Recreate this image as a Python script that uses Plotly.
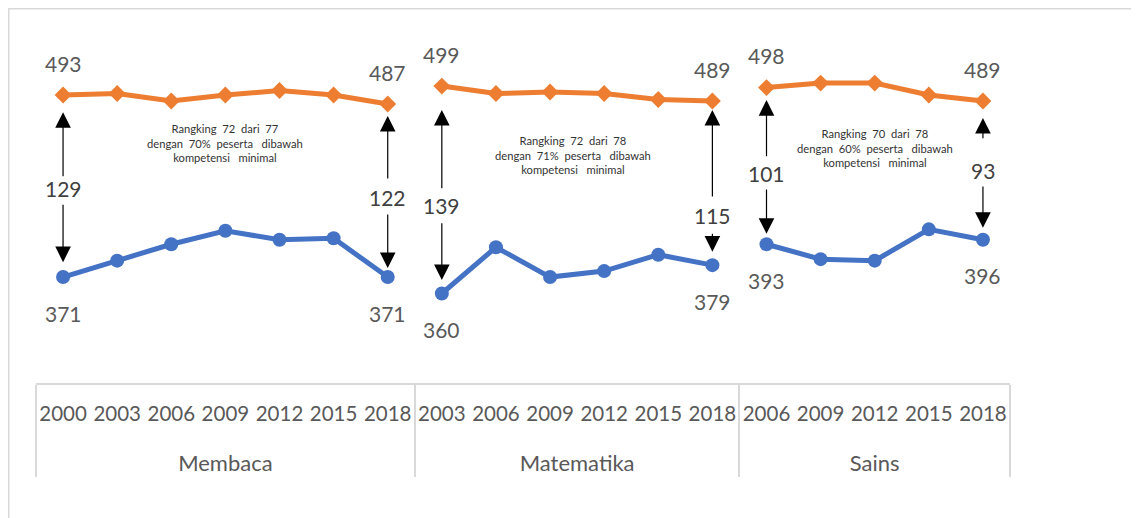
import plotly.graph_objects as go

# ---------------- data ----------------
groups = ["Membaca", "Matematika", "Sains"]

membaca_years = ["2000", "2003", "2006", "2009", "2012", "2015", "2018"]
matematika_years = ["2003", "2006", "2009", "2012", "2015", "2018"]
sains_years = ["2006", "2009", "2012", "2015", "2018"]

membaca_oecd = [493, 494, 489, 493, 496, 493, 487]
matematika_oecd = [499, 494, 495, 494, 490, 489]
sains_oecd = [498, 501, 501, 493, 489]

membaca_indonesia = [371, 382, 393, 402, 396, 397, 371]
matematika_indonesia = [360, 391, 371, 375, 386, 379]
sains_indonesia = [393, 383, 382, 403, 396]

membaca_gap = ["129", "122"]
matematika_gap = ["139", "115"]
sains_gap = ["101", "93"]

membaca_note = "Rangking  72  dari  77<br>dengan  70%  peserta   dibawah<br>kompetensi   minimal"
matematika_note = "Rangking  72  dari  78<br>dengan  71%  peserta   dibawah<br>kompetensi   minimal"
sains_note = "Rangking  70  dari  78<br>dengan  60%  peserta   dibawah<br>kompetensi   minimal"

# ---------------- layout helpers (positions, not data) ----------------
ORANGE = "#ED7D31"
BLUE = "#4472C4"
TXT = "#595959"
FONT = "Lato"

# arrow geometry per group (y in data units): up-tip, up-tail, label, down-tail, down-tip
arrow_geom = {
    "Membaca": [(481.5, 437.5, 430.7, 420.5, 381.0), (479.0, 436.0, 424.6, 414.0, 377.0)],
    "Matematika": [(483.0, 429.5, 419.3, 408.0, 369.0), (483.0, 424.0, 412.6, 401.0, 388.0)],
    "Sains": [(489.6, 451.0, 440.7, 430.7, 400.0), (477.6, 463.0, 442.7, 432.7, 404.0)],
}
# note centre: (category index position, y in data units)
note_pos = {"Membaca": (2.99, 460.8), "Matematika": (9.42, 452.8), "Sains": (15.0, 457.5)}

series = [
    ("Membaca", membaca_years, membaca_oecd, membaca_indonesia, membaca_gap, membaca_note),
    ("Matematika", matematika_years, matematika_oecd, matematika_indonesia, matematika_gap, matematika_note),
    ("Sains", sains_years, sains_oecd, sains_indonesia, sains_gap, sains_note),
]

n_total = sum(len(s[1]) for s in series)

fig = go.Figure()
annotations = []

start = 0
for name, yrs, oecd, indo, gap, note in series:
    group_label = "<br><span style='font-size:22px;baseline-shift:-9px'>" + name + "</span>"
    xcat = [[group_label] * len(yrs), yrs]
    fig.add_trace(go.Scatter(
        x=xcat, y=oecd, mode="lines+markers",
        line=dict(color=ORANGE, width=5),
        marker=dict(symbol="diamond", size=13, color=ORANGE),
        showlegend=False, hoverinfo="skip"))
    fig.add_trace(go.Scatter(
        x=xcat, y=indo, mode="lines+markers",
        line=dict(color=BLUE, width=5),
        marker=dict(symbol="circle", size=14, color=BLUE),
        showlegend=False, hoverinfo="skip"))

    ends = [start, start + len(yrs) - 1]
    for k, idx in enumerate(ends):
        px = (idx + 0.5) / n_total
        vi = 0 if k == 0 else len(yrs) - 1
        annotations.append(dict(xref="paper", yref="y", x=px, y=oecd[vi], xanchor="center",
                                text=str(oecd[vi]), showarrow=False, yshift=32,
                                font=dict(family=FONT, size=21, color=TXT)))
        annotations.append(dict(xref="paper", yref="y", x=px, y=indo[vi], xanchor="center",
                                text=str(indo[vi]), showarrow=False, yshift=-36,
                                font=dict(family=FONT, size=21, color=TXT)))
        up_tip, up_tail, lab, dn_tail, dn_tip = arrow_geom[name][k]
        annotations.append(dict(xref="paper", yref="y", x=px, y=lab, xanchor="center",
                                text=gap[k], showarrow=False,
                                font=dict(family=FONT, size=21, color="#404040")))
        for tip, tail in [(up_tip, up_tail), (dn_tip, dn_tail)]:
            annotations.append(dict(xref="paper", yref="y", x=px, y=tip,
                                    ax=0, ay=tail, ayref="y", axref="pixel",
                                    text="", showarrow=True, arrowhead=2,
                                    arrowsize=2.6, arrowwidth=1.2,
                                    arrowcolor="black", standoff=0, startstandoff=0))
    nx, ny = note_pos[name]
    annotations.append(dict(xref="paper", yref="y", x=(nx + 0.5) / n_total, y=ny,
                            xanchor="center", yanchor="middle",
                            text=note, showarrow=False, align="center",
                            font=dict(family=FONT, size=11.2, color="#333333")))
    start += len(yrs)

# figure geometry (page body adds an 8px offset)
W, H = 1131, 510
L, T = 28, 12
plot_right, plot_bottom = 1002, 375
R, B = W - plot_right, H - plot_bottom
pw, ph = W - L - R, H - T - B

# outer chart frame (partially cropped)
shapes = [dict(type="rect", xref="paper", yref="paper",
               x0=(0.75 - L) / pw, x1=(W + 20 - L) / pw,
               y0=(plot_bottom - H - 40) / ph, y1=(plot_bottom - 0.75) / ph,
               line=dict(color="#D9D9D9", width=1.5), fillcolor="rgba(0,0,0,0)", layer="below")]

fig.update_layout(
    width=W, height=H,
    margin=dict(l=L, r=R, t=T, b=B, autoexpand=False),
    paper_bgcolor="white", plot_bgcolor="white",
    annotations=annotations, shapes=shapes,
    xaxis=dict(type="multicategory", range=[-0.5, n_total - 0.5], autorange=False,
               showline=True, linecolor="#D9D9D9", linewidth=1.5,
               showdividers=True, dividercolor="#D9D9D9", dividerwidth=1.5,
               ticks="", showgrid=False, zeroline=False, tickangle=0, automargin=False,
               ticklabelstandoff=12,
               tickfont=dict(family=FONT, size=20.5, color=TXT)),
    yaxis=dict(range=[300, 543.3], visible=False, showgrid=False, zeroline=False),
)

fig.write_html("out.html")
